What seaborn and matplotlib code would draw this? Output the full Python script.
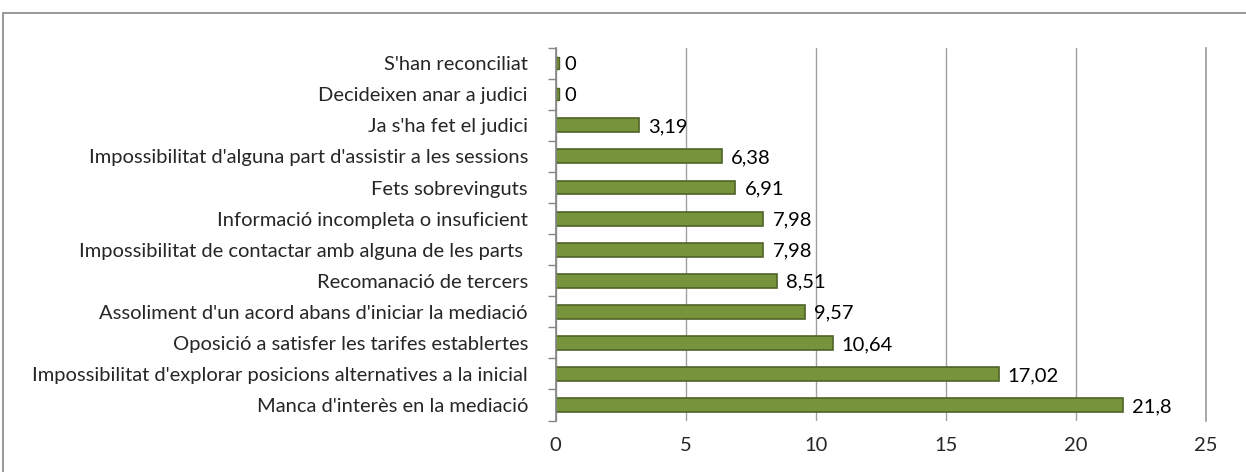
import pandas as pd
import matplotlib.pyplot as plt
import seaborn as sns
import numpy as np
from matplotlib.patches import Rectangle

categories = [
    "S'han reconciliat",
    "Decideixen anar a judici",
    "Ja s'ha fet el judici",
    "Impossibilitat d'alguna part d'assistir a les sessions",
    "Fets sobrevinguts",
    "Informació incompleta o insuficient",
    "Impossibilitat de contactar amb alguna de les parts ",
    "Recomanació de tercers",
    "Assoliment d'un acord abans d'iniciar la mediació",
    "Oposició a satisfer les tarifes establertes",
    "Impossibilitat d'explorar posicions alternatives a la inicial",
    "Manca d'interès en la mediació",
]
values = [0, 0, 3.19, 6.38, 6.91, 7.98, 7.98, 8.51, 9.57, 10.64, 17.02, 21.8]
value_labels = ["0", "0", "3,19", "6,38", "6,91", "7,98", "7,98", "8,51", "9,57", "10,64", "17,02", "21,8"]
x_ticks = [0, 5, 10, 15, 20, 25]

df = pd.DataFrame({"motiu": categories, "percent": values})

sns.set_theme(style="white")
plt.rcParams['font.family'] = ['Lato', 'DejaVu Sans']

fig = plt.figure(figsize=(12.46, 4.72), dpi=100)
ax = fig.add_axes([0.446, 0.109, 0.522, 0.790])

#outer chart frame
fig.patches.append(Rectangle((3 / 1246, -0.01), 1.05, 1 - 13 / 472 + 0.01,
                             transform=fig.transFigure, fill=False,
                             edgecolor='#868686', linewidth=1.2, zorder=0))

sns.barplot(
    data=df,
    x="percent",
    y="motiu",
    orient="h",
    color="#77933C",
    edgecolor="#4F6228",
    linewidth=1.2,
    width=0.45,
    saturation=1,
    ax=ax,
)

# zero-valued bars still show a thin sliver in the original
for i, v in enumerate(values):
    if v == 0:
        ax.barh(i, 0.12, height=0.4, color="#77933C", edgecolor="#4F6228", linewidth=1)

for i, lab in enumerate(value_labels):
    ax.text(values[i] + 0.35, i + 0.05, lab, va="center", ha="left", fontsize=14.5, color="black")

ax.set_xlim(0, 25)
ax.set_ylim(11.5, -0.5)
ax.set_xticks(x_ticks)
ax.set_xticklabels([str(t) for t in x_ticks], fontsize=14.5)
ax.set_yticks(np.arange(-0.5, 12, 1), minor=True)
ax.tick_params(axis='y', which='major', labelsize=14.5, length=0, pad=20)
ax.tick_params(axis='y', which='minor', length=6, color='#868686', left=True)
ax.tick_params(axis='x', length=0, pad=12)
ax.set_xlabel("")
ax.set_ylabel("")
ax.xaxis.grid(True, color='#A0A0A0', linewidth=1)
ax.set_axisbelow(True)
for s in ["top", "bottom"]:
    ax.spines[s].set_visible(False)
ax.spines["right"].set_color('#A0A0A0')
ax.spines["left"].set_color('#868686')

fig.savefig("out.png", dpi=100)
